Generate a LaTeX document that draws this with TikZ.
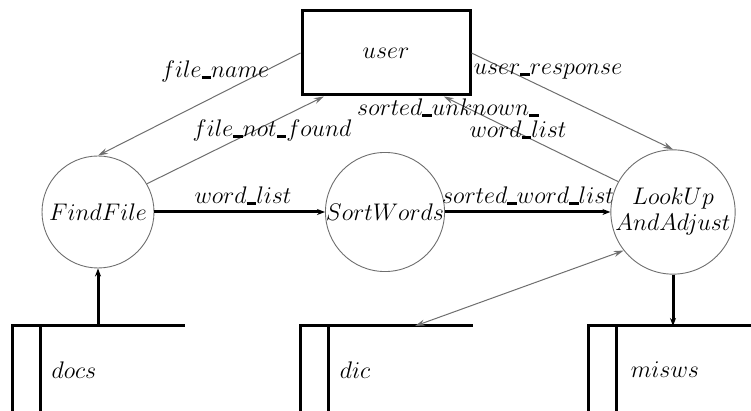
\documentclass[tikz,border=0pt]{standalone}
\usepackage{tikz}
\usetikzlibrary{arrows.meta,positioning}
\definecolor{FlowGray}{HTML}{6E6E6E}
% short heavy underscore between words
\newcommand{\usc}{\mbox{\rule[-.1ex]{.4em}{.25ex}}}

\begin{document}
\begin{tikzpicture}[x=.5pt,y=-.5pt,
  proc/.style={circle,draw=FlowGray,line width=.45pt,minimum size=56pt,inner sep=0pt,font=\large},
  term/.style={draw,line width=1.5pt,minimum width=84pt,minimum height=42pt,font=\large},
  flow/.style={draw=FlowGray,line width=.5pt,-{Stealth[length=5pt,width=3pt]}},
  bigflow/.style={line width=1.5pt,-{Stealth[length=4pt,width=3pt]}},
  store/.style={line width=1.5pt},
  lbl/.style={font=\large,inner sep=1pt}]
\useasboundingbox (0,0) rectangle (751,411);
% terminator and processes
\node[term] (user) at (386,53) {$user$};
\node[proc] (find) at (98,212) {$FindFile$};
\node[proc] (sort) at (385,212) {$SortWords$};
\node[proc,align=center] (look) at (673,212) {$LookUp$\\[-1pt]$AndAdjust$};
% data stores
\draw[store] (12,411) |- (185,326);
\draw[store] (40,326) -- (40,411);
\node[lbl] (docs) at (74,370) {$docs$};
\coordinate (docs top) at (98,326);
\draw[store] (300,411) |- (473,326);
\draw[store] (328,326) -- (328,411);
\node[lbl] (dic) at (355,370) {$dic$};
\coordinate (dic top) at (415,326);
\draw[store] (588,411) |- (751,326);
\draw[store] (616,326) -- (616,411);
\node[lbl] (misws) at (665,370) {$misws$};
\coordinate (misws top) at (673,326);
% flows
\draw[flow] (user.west) -- (find.north);
\draw[flow] (find.30) -- (user.215);
\draw[flow] (user.east) -- (look.north);
\draw[flow] (look.151) -- (user.-37);
\draw[flow,{Stealth[length=5pt,width=3pt]}-{Stealth[length=5pt,width=3pt]}] (look.218) -- (dic top);
\draw[bigflow] (find) -- (sort);
\draw[bigflow] (sort) -- (look);
\draw[bigflow] (docs top) -- (find.south);
\draw[bigflow] (look.south) -- (misws top);
% labels
\node[lbl] at (215,72) {$file\usc name$};
\node[lbl] at (272,131) {$file\usc not\usc found$};
\node[lbl] at (548,72) {$user\usc response$};
\node[lbl] at (448,108) {$sorted\usc unknown\usc$};
\node[lbl] at (518,130) {$word\usc list$};
\node[lbl] at (243,196) {$word\usc list$};
\node[lbl] at (528,196) {$sorted\usc word\usc list$};
\end{tikzpicture}
\end{document}
